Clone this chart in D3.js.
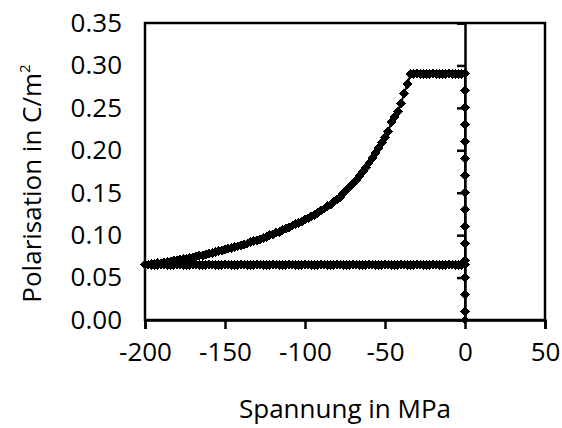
<!DOCTYPE html>
<html>
<head>
<meta charset="utf-8">
<script src="https://cdn.jsdelivr.net/npm/d3@7"></script>
<style>
  html, body { margin: 0; padding: 0; background: #fff; }
  svg { display: block; }
  text { font-family: "Open Sans", "Noto Sans", sans-serif; fill: #000; }
</style>
</head>
<body>
<svg id="chart" width="562" height="428"></svg>
<script>
// Poling at zero stress: polarisation rises along the P axis
const poleStress = [0, 0, 0, 0, 0, 0, 0, 0, 0, 0, 0, 0, 0, 0, 0, 0];
const polePol = [0, 0.01, 0.03, 0.05, 0.07, 0.09, 0.11, 0.13, 0.15, 0.17, 0.19, 0.21, 0.23, 0.25, 0.27, 0.29];

// Compressive loading, 0 down to -200 MPa in 2 MPa steps
const loadStress = [
  0, -2, -4, -6, -8, -10, -12, -14, -16, -18, -20, -22, -24, -26, -28, -30, -32, -34,
  -36, -38, -40, -42, -44, -46, -48, -50, -52, -54, -56, -58, -60, -62, -64, -66, -68, -70,
  -72, -74, -76, -78, -80, -82, -84, -86, -88, -90, -92, -94, -96, -98, -100, -102, -104, -106,
  -108, -110, -112, -114, -116, -118, -120, -122, -124, -126, -128, -130, -132, -134, -136, -138,
  -140, -142, -144, -146, -148, -150, -152, -154, -156, -158, -160, -162, -164, -166, -168, -170,
  -172, -174, -176, -178, -180, -182, -184, -186, -188, -190, -192, -194, -196, -198, -200
];
const loadPol = [
  0.29, 0.29, 0.29, 0.29, 0.29, 0.29, 0.29, 0.29, 0.29, 0.29, 0.29, 0.29, 0.29, 0.29, 0.29, 0.29, 0.29, 0.29,
  0.278, 0.267, 0.255, 0.246, 0.239, 0.233, 0.222, 0.215, 0.209, 0.203, 0.197, 0.191, 0.185, 0.180, 0.175, 0.170, 0.165, 0.161,
  0.157, 0.153, 0.149, 0.145, 0.142, 0.139, 0.136, 0.134, 0.131, 0.129, 0.126, 0.124, 0.122, 0.120, 0.118, 0.116, 0.114, 0.113,
  0.111, 0.109, 0.108, 0.106, 0.104, 0.103, 0.101, 0.100, 0.098, 0.097, 0.095, 0.094, 0.093, 0.092, 0.090, 0.089,
  0.088, 0.087, 0.086, 0.085, 0.084, 0.083, 0.082, 0.081, 0.080, 0.079, 0.078, 0.077, 0.076, 0.076, 0.075, 0.074,
  0.073, 0.072, 0.072, 0.071, 0.070, 0.070, 0.069, 0.068, 0.068, 0.067, 0.067, 0.066, 0.066, 0.065, 0.065
];

// Unloading, -200 back to 0 MPa: remanent polarisation stays constant
const unloadStress = loadStress.slice().reverse();
const unloadPol = [
  0.065, 0.065, 0.065, 0.065, 0.065, 0.065, 0.065, 0.065, 0.065, 0.065, 0.065, 0.065, 0.065, 0.065, 0.065, 0.065, 0.065,
  0.065, 0.065, 0.065, 0.065, 0.065, 0.065, 0.065, 0.065, 0.065, 0.065, 0.065, 0.065, 0.065, 0.065, 0.065, 0.065, 0.065,
  0.065, 0.065, 0.065, 0.065, 0.065, 0.065, 0.065, 0.065, 0.065, 0.065, 0.065, 0.065, 0.065, 0.065, 0.065, 0.065, 0.065,
  0.065, 0.065, 0.065, 0.065, 0.065, 0.065, 0.065, 0.065, 0.065, 0.065, 0.065, 0.065, 0.065, 0.065, 0.065, 0.065, 0.065,
  0.065, 0.065, 0.065, 0.065, 0.065, 0.065, 0.065, 0.065, 0.065, 0.065, 0.065, 0.065, 0.065, 0.065, 0.065, 0.065, 0.065,
  0.065, 0.065, 0.065, 0.065, 0.065, 0.065, 0.065, 0.065, 0.065, 0.065, 0.065, 0.065, 0.065, 0.065, 0.065, 0.065
];

const xTicks = [-200, -150, -100, -50, 0, 50];
const yTicks = [0, 0.05, 0.10, 0.15, 0.20, 0.25, 0.30, 0.35];
const xTitle = "Spannung in MPa";
const yTitle = "Polarisation in C/m";

const svg = d3.select("#chart");
const plot = { left: 145, right: 545, top: 23, bottom: 320 };

const x = d3.scaleLinear().domain([-200, 50]).range([plot.left, plot.right]);
const y = d3.scaleLinear().domain([0, 0.35]).range([plot.bottom, plot.top]);

const pts = [];
poleStress.forEach((s, i) => pts.push([s, polePol[i]]));
loadStress.forEach((s, i) => pts.push([s, loadPol[i]]));
unloadStress.forEach((s, i) => pts.push([s, unloadPol[i]]));

// Plot frame
svg.append("rect")
  .attr("x", plot.left).attr("y", plot.top)
  .attr("width", plot.right - plot.left).attr("height", plot.bottom - plot.top)
  .attr("fill", "none").attr("stroke", "#000").attr("stroke-width", 2.5);

// X axis along P = 0, ticks downward
const xAxis = svg.append("g")
  .attr("transform", `translate(0,${plot.bottom})`)
  .call(d3.axisBottom(x).tickValues(xTicks).tickSize(9).tickPadding(14).tickFormat(d => String(d)));
xAxis.select(".domain").attr("stroke-width", 2.5);
xAxis.selectAll(".tick line").attr("stroke-width", 2.5);
xAxis.selectAll(".tick text").attr("font-size", 26).attr("font-family", null);

// Y axis crosses at stress = 0, ticks to the left
const yAxisLine = svg.append("g")
  .attr("transform", `translate(${x(0)},0)`)
  .call(d3.axisLeft(y).tickValues(yTicks).tickSize(8).tickFormat(""));
yAxisLine.select(".domain").attr("stroke-width", 2.5);
yAxisLine.selectAll(".tick line").attr("stroke-width", 2.5);

// Y tick labels sit beside the left edge of the plot
const yLabels = svg.append("g")
  .attr("transform", `translate(${plot.left},0)`)
  .call(d3.axisLeft(y).tickValues(yTicks).tickSize(0).tickPadding(23).tickFormat(d3.format(".2f")));
yLabels.select(".domain").remove();
yLabels.selectAll(".tick text").attr("font-size", 26).attr("font-family", null);

// Series line and diamond markers
svg.append("path")
  .datum(pts)
  .attr("fill", "none").attr("stroke", "#000").attr("stroke-width", 2)
  .attr("d", d3.line().x(d => x(d[0])).y(d => y(d[1])));

const diamond = d3.symbol().type(d3.symbolDiamond2).size(46);
svg.append("g")
  .attr("shape-rendering", "crispEdges")
  .selectAll("path")
  .data(pts)
  .join("path")
  .attr("transform", d => `translate(${x(d[0])},${y(d[1])})`)
  .attr("d", diamond)
  .attr("fill", "#000")
  .attr("stroke", "#000")
  .attr("stroke-width", 1);

// Axis titles
svg.append("text")
  .attr("x", (plot.left + plot.right) / 2)
  .attr("y", 418)
  .attr("text-anchor", "middle")
  .attr("font-size", 26)
  .text(xTitle);

const yt = svg.append("text")
  .attr("transform", `translate(41,${(65 + 302) / 2}) rotate(-90)`)
  .attr("text-anchor", "middle")
  .attr("font-size", 26);
yt.append("tspan").text(yTitle);
yt.append("tspan").attr("font-size", 15).attr("dy", -11).text("2");
</script>
</body>
</html>
